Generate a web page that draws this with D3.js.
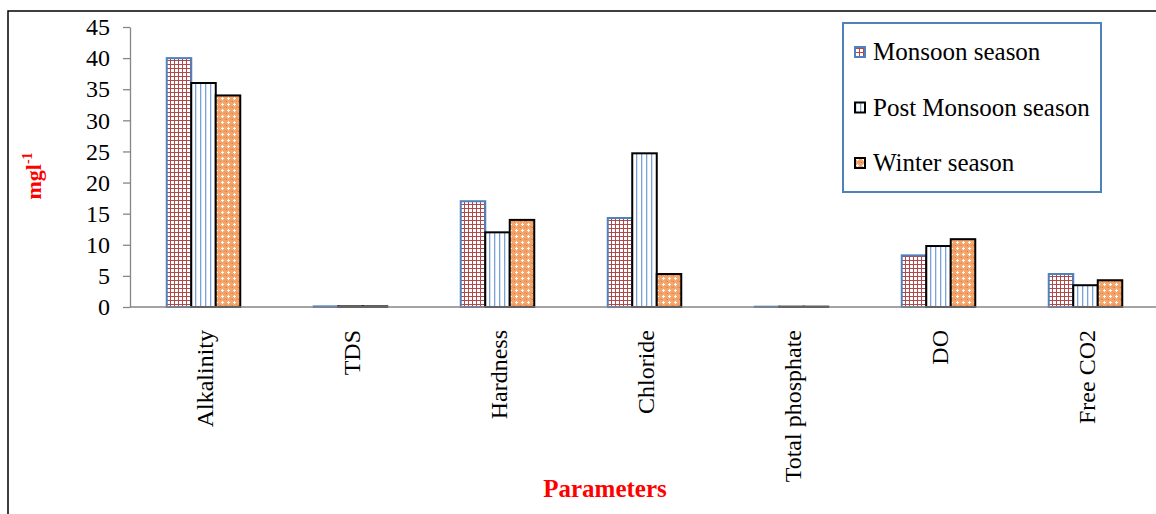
<!DOCTYPE html>
<html>
<head>
<meta charset="utf-8">
<script src="https://cdn.jsdelivr.net/npm/d3@7"></script>
<style>
  body { margin: 0; background: #fff; }
  svg { display: block; font-family: "Liberation Serif", "Times New Roman", serif; }
</style>
</head>
<body>
<script>
// values (mg/l)
const categories = ["Alkalinity", "TDS", "Hardness", "Chloride", "Total phosphate", "DO", "Free CO2"];
const seriesNames = ["Monsoon season", "Post Monsoon season", "Winter season"];
const monsoon = [40, 0.1, 17, 14.3, 0.05, 8.3, 5.3];
const postMonsoon = [36, 0.1, 12, 24.7, 0.05, 9.8, 3.5];
const winter = [34, 0.1, 14, 5.3, 0.05, 10.9, 4.3];
const yTicks = [0, 5, 10, 15, 20, 25, 30, 35, 40, 45];

const width = 1156;
const height = 514;

const seriesValues = [monsoon, postMonsoon, winter];
const rows = categories.map((c, i) => ({
    cat: c,
    vals: seriesNames.map((s, j) => ({ key: s, value: seriesValues[j][i] }))
}));

const svg = d3.create("svg")
    .attr("width", width)
    .attr("height", height);

// fill patterns, like the excel ones
const defs = svg.append("defs");

const pGrid = defs.append("pattern")
    .attr("id", "pat-monsoon")
    .attr("patternUnits", "userSpaceOnUse")
    .attr("width", 4).attr("height", 4);
pGrid.append("rect").attr("width", 4).attr("height", 4).attr("fill", "#fff");
pGrid.append("rect").attr("x", 0).attr("y", 0).attr("width", 4).attr("height", 1).attr("fill", "#b04a4a");
pGrid.append("rect").attr("x", 0).attr("y", 0).attr("width", 1).attr("height", 4).attr("fill", "#b04a4a");

const pVert = defs.append("pattern")
    .attr("id", "pat-post")
    .attr("patternUnits", "userSpaceOnUse")
    .attr("width", 5).attr("height", 5);
pVert.append("rect").attr("width", 5).attr("height", 5).attr("fill", "#fff");
pVert.append("rect").attr("x", 0).attr("y", 0).attr("width", 1.3).attr("height", 5).attr("fill", "#7aa2d9");

const pDots = defs.append("pattern")
    .attr("id", "pat-winter")
    .attr("patternUnits", "userSpaceOnUse")
    .attr("width", 6).attr("height", 6);
pDots.append("rect").attr("width", 6).attr("height", 6).attr("fill", "#f4a66c");
pDots.append("rect").attr("x", 1).attr("y", 2).attr("width", 3).attr("height", 1).attr("fill", "#fff");
pDots.append("rect").attr("x", 2).attr("y", 1).attr("width", 1).attr("height", 3).attr("fill", "#fff");
pDots.append("rect").attr("x", 4.5).attr("y", 4.5).attr("width", 1).attr("height", 1).attr("fill", "#e0783a");
pDots.append("rect").attr("x", 0).attr("y", 5).attr("width", 1).attr("height", 1).attr("fill", "#e0783a");

const fills = { "Monsoon season": "url(#pat-monsoon)", "Post Monsoon season": "url(#pat-post)", "Winter season": "url(#pat-winter)" };
const strokes = { "Monsoon season": "#4f81bd", "Post Monsoon season": "#000", "Winter season": "#000" };

// outer frame
svg.append("rect")
    .attr("x", 8).attr("y", 11)
    .attr("width", 1160).attr("height", 520)
    .attr("fill", "none")
    .attr("stroke", "#000")
    .attr("stroke-width", 1.5);

const x0 = d3.scaleBand()
    .domain(categories)
    .range([130, 1159])
    .padding(0);

const x1 = d3.scaleBand()
    .domain(seriesNames)
    .range([0, x0.bandwidth()])
    .paddingInner(0)
    .paddingOuter(1.5);

const y = d3.scaleLinear()
    .domain([0, 45])
    .range([307, 27]);

// y axis
const yAxis = svg.append("g")
    .attr("transform", "translate(130,0)")
    .call(d3.axisLeft(y).tickValues(yTicks).tickSize(7).tickSizeOuter(0).tickPadding(13));
yAxis.select(".domain").attr("stroke", "#868686").attr("stroke-width", 1.3);
yAxis.selectAll(".tick line").attr("stroke", "#868686").attr("stroke-width", 1.3);
yAxis.selectAll(".tick text")
    .attr("font-family", "Liberation Serif, Times New Roman, serif")
    .attr("font-size", 24)
    .attr("fill", "#000");

// bars
const groups = svg.append("g")
    .selectAll("g")
    .data(rows)
    .join("g")
    .attr("transform", d => `translate(${x0(d.cat)},0)`);

groups.selectAll("rect")
    .data(d => d.vals)
    .join("rect")
    .attr("x", d => x1(d.key))
    .attr("y", d => y(d.value))
    .attr("width", x1.bandwidth())
    .attr("height", d => y(0) - y(d.value))
    .attr("fill", d => fills[d.key])
    .attr("stroke", d => strokes[d.key])
    .attr("stroke-width", 2);

// x axis line
svg.append("line")
    .attr("x1", 130).attr("x2", width)
    .attr("y1", y(0)).attr("y2", y(0))
    .attr("stroke", "#868686")
    .attr("stroke-width", 1.3);

// category labels, rotated
svg.append("g")
    .selectAll("text")
    .data(categories)
    .join("text")
    .attr("transform", d => `translate(${x0(d) + x0.bandwidth() / 2 + 9},330) rotate(-90)`)
    .attr("text-anchor", "end")
    .attr("font-size", 24)
    .attr("fill", "#000")
    .text(d => d);

// axis titles
const yTitle = svg.append("text")
    .attr("transform", "translate(41,176) rotate(-90)")
    .attr("text-anchor", "middle")
    .attr("font-size", 22)
    .attr("font-weight", "bold")
    .attr("fill", "#ff0000");
yTitle.append("tspan").text("mgl");
yTitle.append("tspan").attr("font-size", 14).attr("dy", -9).text("-1");

svg.append("text")
    .attr("x", 605).attr("y", 497)
    .attr("text-anchor", "middle")
    .attr("font-size", 25)
    .attr("font-weight", "bold")
    .attr("fill", "#ff0000")
    .text("Parameters");

// legend
const legend = svg.append("g");
legend.append("rect")
    .attr("x", 843).attr("y", 23)
    .attr("width", 258).attr("height", 169)
    .attr("fill", "#fff")
    .attr("stroke", "#4f81bd")
    .attr("stroke-width", 2);

const legendY = d3.scalePoint()
    .domain(seriesNames)
    .range([52, 163]);

const item = legend.selectAll("g.item")
    .data(seriesNames)
    .join("g")
    .attr("class", "item")
    .attr("transform", d => `translate(855,${legendY(d)})`);

item.append("rect")
    .attr("x", 0).attr("y", -5)
    .attr("width", 10).attr("height", 10)
    .attr("fill", d => fills[d])
    .attr("stroke", d => strokes[d])
    .attr("stroke-width", 2);

item.append("text")
    .attr("x", 18).attr("y", 8)
    .attr("font-size", 25)
    .attr("fill", "#000")
    .text(d => d);

document.body.appendChild(svg.node());
</script>
</body>
</html>
